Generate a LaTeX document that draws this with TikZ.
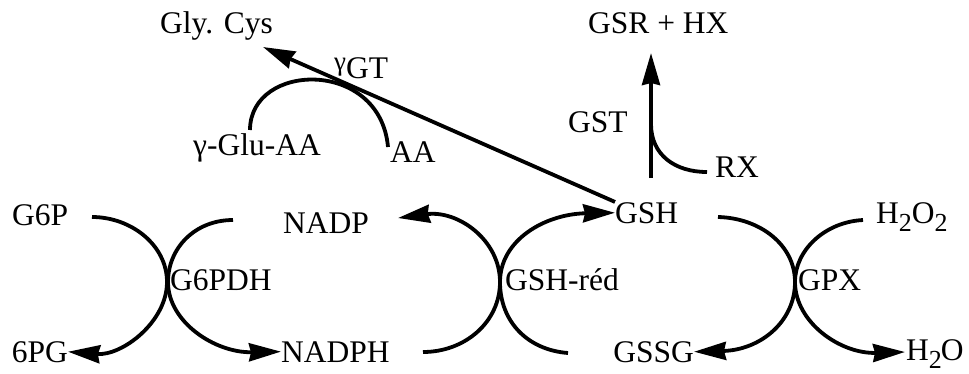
\documentclass[tikz,border=0pt]{standalone}
\usepackage{fontspec}
\setmainfont{Liberation Serif}
\usetikzlibrary{arrows.meta}
% lowered subscript two used in the water formulas
\newcommand\lowtwo{\raisebox{-8pt}{\fontsize{26}{26}\selectfont 2}}
\begin{document}
\begin{tikzpicture}[x=1pt,y=-1pt,
  lbl/.style={inner sep=0pt,font=\fontsize{31.5}{36}\selectfont},
  flow/.style={line width=3.8pt},
  tip/.style={-{Stealth[length=32pt,width=18pt,inset=2pt]}}]
  \useasboundingbox (0,0) rectangle (969,373);

  % metabolites and enzymes
  \node[lbl,anchor=base west] (glycys) at (160,33) {Gly. Cys};
  \node[lbl,anchor=base west] (gsrhx)  at (588,33) {GSR + HX};
  \node[lbl,anchor=base west] (ggt)    at (334,78) {\raisebox{8pt}{\fontsize{27}{27}\selectfont γ}GT};
  \node[lbl,anchor=base west] (gluaa)  at (193,155) {γ-Glu-AA};
  \node[lbl,anchor=base west] (aa)     at (390,162) {AA};
  \node[lbl,anchor=base west] (gst)    at (568,132) {GST};
  \node[lbl,anchor=base west] (rx)     at (715,177) {RX};

  \node[lbl,anchor=base west] (g6p)    at (12,225)  {G6P};
  \node[lbl,anchor=base west] (nadp)   at (283,233) {NADP};
  \node[lbl,anchor=base west] (gsh)    at (615,223) {GSH};
  \node[lbl,anchor=base west] (hho)    at (876,223) {H\lowtwo O\lowtwo};

  \node[lbl,anchor=base west] (g6pdh)  at (170,290) {G6PDH};
  \node[lbl,anchor=base west] (gshred) at (505,290) {GSH-réd};
  \node[lbl,anchor=base west] (gpx)    at (798,290) {GPX};

  \node[lbl,anchor=base east] (pg)     at (68,362)  {6PG};
  \node[lbl,anchor=base west] (nadph)  at (281,362) {NADPH};
  \node[lbl,anchor=base east] (gssg)   at (694,362) {GSSG};
  \node[lbl,anchor=base west] (water)  at (906,360) {H\lowtwo\kern-1pt O};

  % free ends of the reaction arcs
  \coordinate (cysTip)  at (263,47);
  \coordinate (gstFoot) at (651,178);
  \coordinate (gstHead) at (651,53);
  \coordinate (rxJoin)  at (651,124);
  \coordinate (rxEnd)   at (707,172);
  \coordinate (gluEnd)  at (250,130);
  \coordinate (aaEnd)   at (388,147);
  \coordinate (g6pEnd)  at (92,217);
  \coordinate (nadpIn)  at (233,220);
  \coordinate (nadphOut) at (423,352);
  \coordinate (nadpTip) at (398,218);
  \coordinate (gssgIn)  at (568,353);
  \coordinate (gshOut)  at (718,217);
  \coordinate (hhoIn)   at (863,220);
  \coordinate (waterTip) at (905,352);

  % gamma-glutamyl transpeptidase
  \draw[flow,tip] (gsh.north west) -- (cysTip);
  \draw[flow] (gluEnd) .. controls (250,62) and (380,58) .. (aaEnd);

  % glutathione S-transferase
  \draw[flow,tip] (gstFoot) -- (gstHead);
  \draw[flow] (rxJoin) .. controls (651,155) and (675,172) .. (rxEnd);

  % glucose-6-phosphate dehydrogenase
  \draw[flow,tip] (g6pEnd) .. controls (131,217) and (167,245) .. (167,282)
                  .. controls (167,322) and (122,356) .. (pg.east);
  \draw[flow,tip] (nadpIn) .. controls (195,220) and (168,248) .. (168,282)
                  .. controls (168,322) and (215,353) .. (nadph.west);

  % glutathione reductase
  \draw[flow,tip] (nadphOut) .. controls (465,352) and (500,322) .. (500,282)
                  .. controls (500,240) and (458,210) .. (nadpTip);
  \draw[flow,tip] (gssgIn) .. controls (528,350) and (500,322) .. (500,282)
                  .. controls (500,240) and (545,214) .. (gsh.west);

  % glutathione peroxidase
  \draw[flow,tip] (gshOut) .. controls (760,218) and (795,245) .. (795,282)
                  .. controls (795,322) and (760,350) .. (gssg.east);
  \draw[flow,tip] (hhoIn) .. controls (825,222) and (795,250) .. (795,282)
                  .. controls (795,322) and (840,354) .. (waterTip);
\end{tikzpicture}
\end{document}
